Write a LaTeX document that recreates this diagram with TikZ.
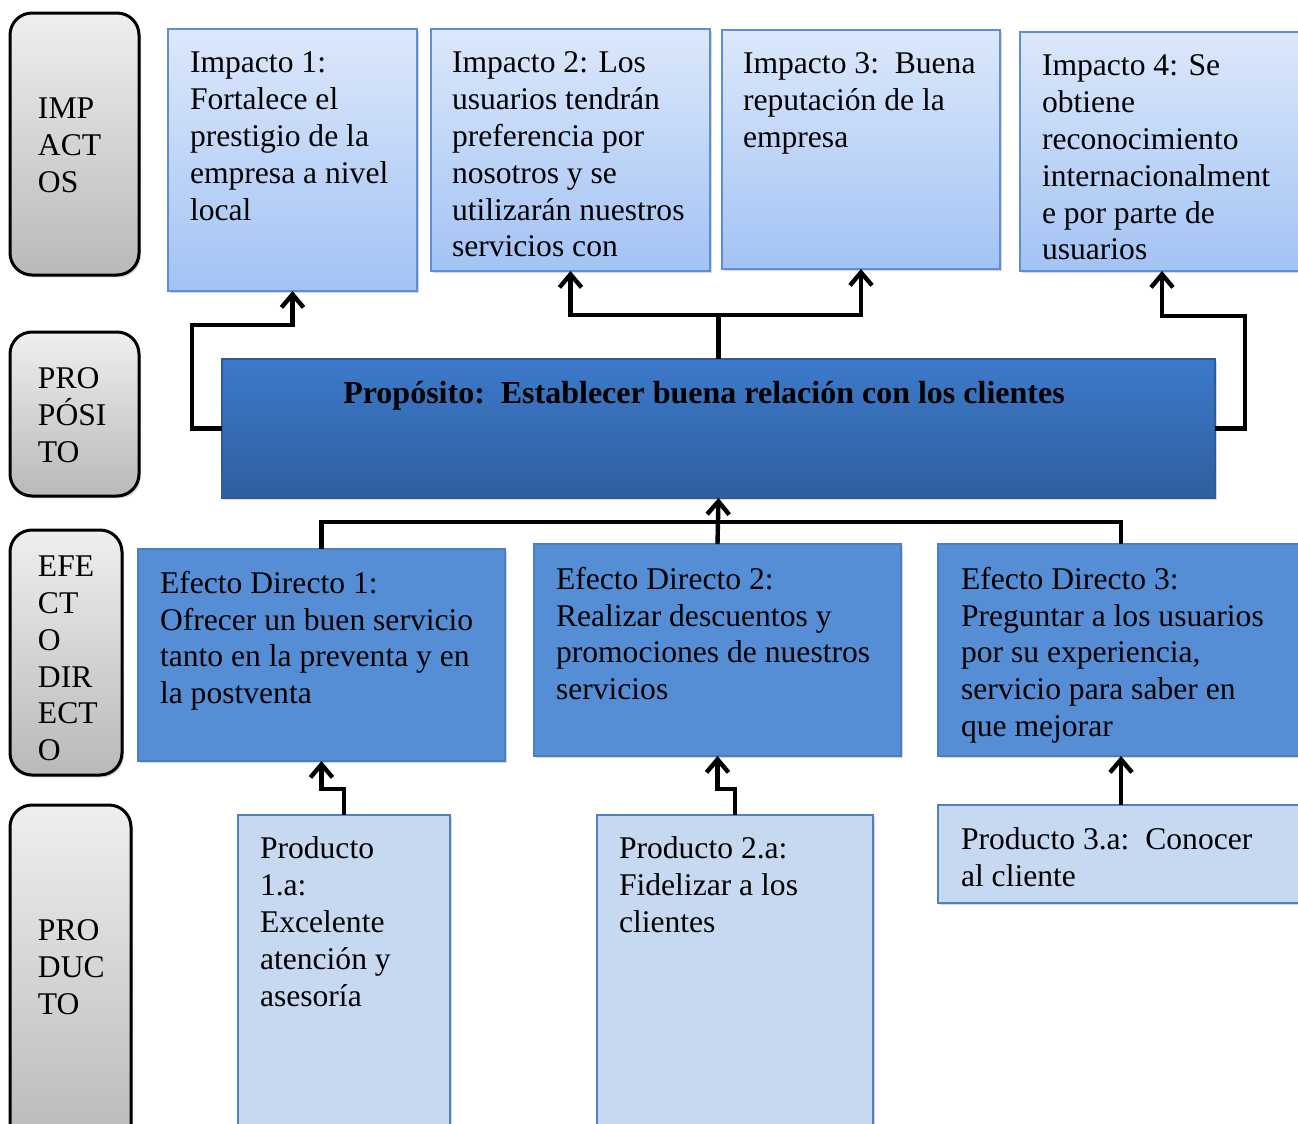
\documentclass[tikz,border=0pt]{standalone}
\usepackage{fontspec}
\setmainfont{Liberation Serif}
\usetikzlibrary{fit,shadows,arrows.meta,calc}
\definecolor{lbTop}{HTML}{DCE8FB}
\definecolor{lbBot}{HTML}{A3C3F4}
\definecolor{lbBorder}{HTML}{5E8DD3}
\definecolor{prTop}{HTML}{3C7ACA}
\definecolor{prBot}{HTML}{305E9E}
\definecolor{prBorder}{HTML}{2D5B98}
\definecolor{efFill}{HTML}{558ED5}
\definecolor{efBorder}{HTML}{4A7EBF}
\definecolor{pdFill}{HTML}{C6D9F1}
\definecolor{pdBorder}{HTML}{4F81BD}
\definecolor{gTop}{HTML}{EFEFEF}
\definecolor{gBot}{HTML}{B9B9B9}
\begin{document}
\begin{tikzpicture}[x=0.5pt,y=-0.5pt,
  every node/.style={inner sep=0pt, outer sep=0pt},
  shad/.style={drop shadow={shadow xshift=1pt, shadow yshift=-1.2pt, opacity=0.3}},
  sidebox/.style={draw=black, line width=1.5pt, rounded corners=11pt, top color=gTop, bottom color=gBot, shad},
  impbox/.style={draw=lbBorder, line width=0.9pt, top color=lbTop, bottom color=lbBot, shad},
  propbox/.style={draw=prBorder, line width=0.9pt, top color=prTop, bottom color=prBot, shad},
  efbox/.style={draw=efBorder, line width=0.9pt, fill=efFill, shad},
  pdbox/.style={draw=pdBorder, line width=0.9pt, fill=pdFill, shad},
  txt/.style={anchor=north west, yshift=10pt, align=left, font=\fontsize{15.8}{18.4}\selectfont,
    execute at begin node={\rule{0pt}{16pt}}},
  link/.style={line width=2.2pt},
  arr/.style={line width=2.2pt, -{Straight Barb[length=6.5pt,width=11pt]}}]
\useasboundingbox (0,0) rectangle (1298,1124);
\clip (0,0) rectangle (1298,1124);
\fill[white] (0,0) rectangle (1298,1124);

% side labels
\node[sidebox, fit={(10,13) (139,275)}] (simp) {};
\node[txt] (timp) at (38,118) {IMP\\ACT\\OS};
\node[sidebox, fit={(10,332) (139,496)}] (sprop) {};
\node[txt] (tprop) at (38,388) {PRO\\PÓSI\\TO};
\node[sidebox, fit={(10,530) (122,775)}] (sef) {};
\begin{scope}
\clip (10,530) rectangle (122,761);
\node[txt] (tef) at (38,576) {EFE\\CT\\O\\DIR\\ECT\\O};
\end{scope}
\node[sidebox, fit={(10,805) (131,1150)}] (sprod) {};
\node[txt] (tprod) at (38,940) {PRO\\DUC\\TO};

% impacts
\node[impbox, fit={(168,29) (417,291)}] (i1) {};
\node[txt] (ti1) at (190,72) {Impacto 1:\\Fortalece el\\prestigio de la\\empresa a nivel\\local};
\node[impbox, fit={(431,29) (710,271)}] (i2) {};
\node[txt] (ti2) at (452,72) {Impacto 2: Los\\usuarios tendrán\\preferencia por\\nosotros y se\\utilizarán nuestros\\servicios con};
\node[impbox, fit={(722,30) (1000,269)}] (i3) {};
\node[txt] (ti3) at (743,73) {Impacto 3:\ \ Buena\\reputación de la\\empresa};
\node[impbox, fit={(1020,32) (1304,271)}] (i4) {};
\node[txt] (ti4) at (1042,75) {Impacto 4: Se\\obtiene\\reconocimiento\\internacionalment\\e por parte de\\usuarios};

% purpose
\node[propbox, fit={(222,359) (1215,498)}] (prop) {};
\node[anchor=base, font=\fontsize{16}{18.4}\selectfont\bfseries] (tprop2) at (704,403) {Propósito:\ \ Establecer buena relación con los clientes};

% direct effects
\node[efbox, fit={(138,549) (505,761)}] (e1) {};
\node[txt] (te1) at (160,591) {Efecto Directo 1:\\Ofrecer un buen servicio\\tanto en la preventa y en\\la postventa};
\node[efbox, fit={(534,544) (901,756)}] (e2) {};
\node[txt] (te2) at (556,587) {Efecto Directo 2:\\Realizar descuentos y\\promociones de nuestros\\servicios};
\node[efbox, fit={(938,544) (1304,756)}] (e3) {};
\node[txt] (te3) at (961,587) {Efecto Directo 3:\\Preguntar a los usuarios\\por su experiencia,\\servicio para saber en\\que mejorar};

% products
\node[pdbox, fit={(238,815) (450,1150)}] (p1) {};
\node[txt] (tp1) at (260,857) {Producto\\1.a:\\Excelente\\atención y\\asesoría};
\node[pdbox, fit={(597,815) (873,1150)}] (p2) {};
\node[txt] (tp2) at (619,857) {Producto 2.a:\\Fidelizar a los\\clientes};
\node[pdbox, fit={(938,805) (1304,903)}] (p3) {};
\node[txt] (tp3) at (961,848) {Producto 3.a:\ \ Conocer\\al cliente};

% connectors
\draw[arr] (prop.west) -- ++(-30,0) |- ([yshift=-17pt]i1.south) -- (i1.south);
\draw[link] (prop.north) -- ++(0,-44) coordinate (tj);
\draw[arr] (tj) -| (i2.south);
\draw[arr] (tj) -| (i3.south);
\draw[arr] (prop.east) -- ++(30,0) |- ([yshift=-22.5pt]i4.south) -- (i4.south);
\draw[link] (e1.north) |- ([yshift=11pt]e3.north) -- (e3.north);
\draw[arr] (e2.north) -- (prop.south);
\draw[arr] (p1.north) -- ++(0,-26) -| (e1.south);
\draw[arr] (p2.north) -- ++(0,-26) -| (e2.south);
\draw[arr] (p3.north) -- (e3.south);
\end{tikzpicture}
\end{document}
